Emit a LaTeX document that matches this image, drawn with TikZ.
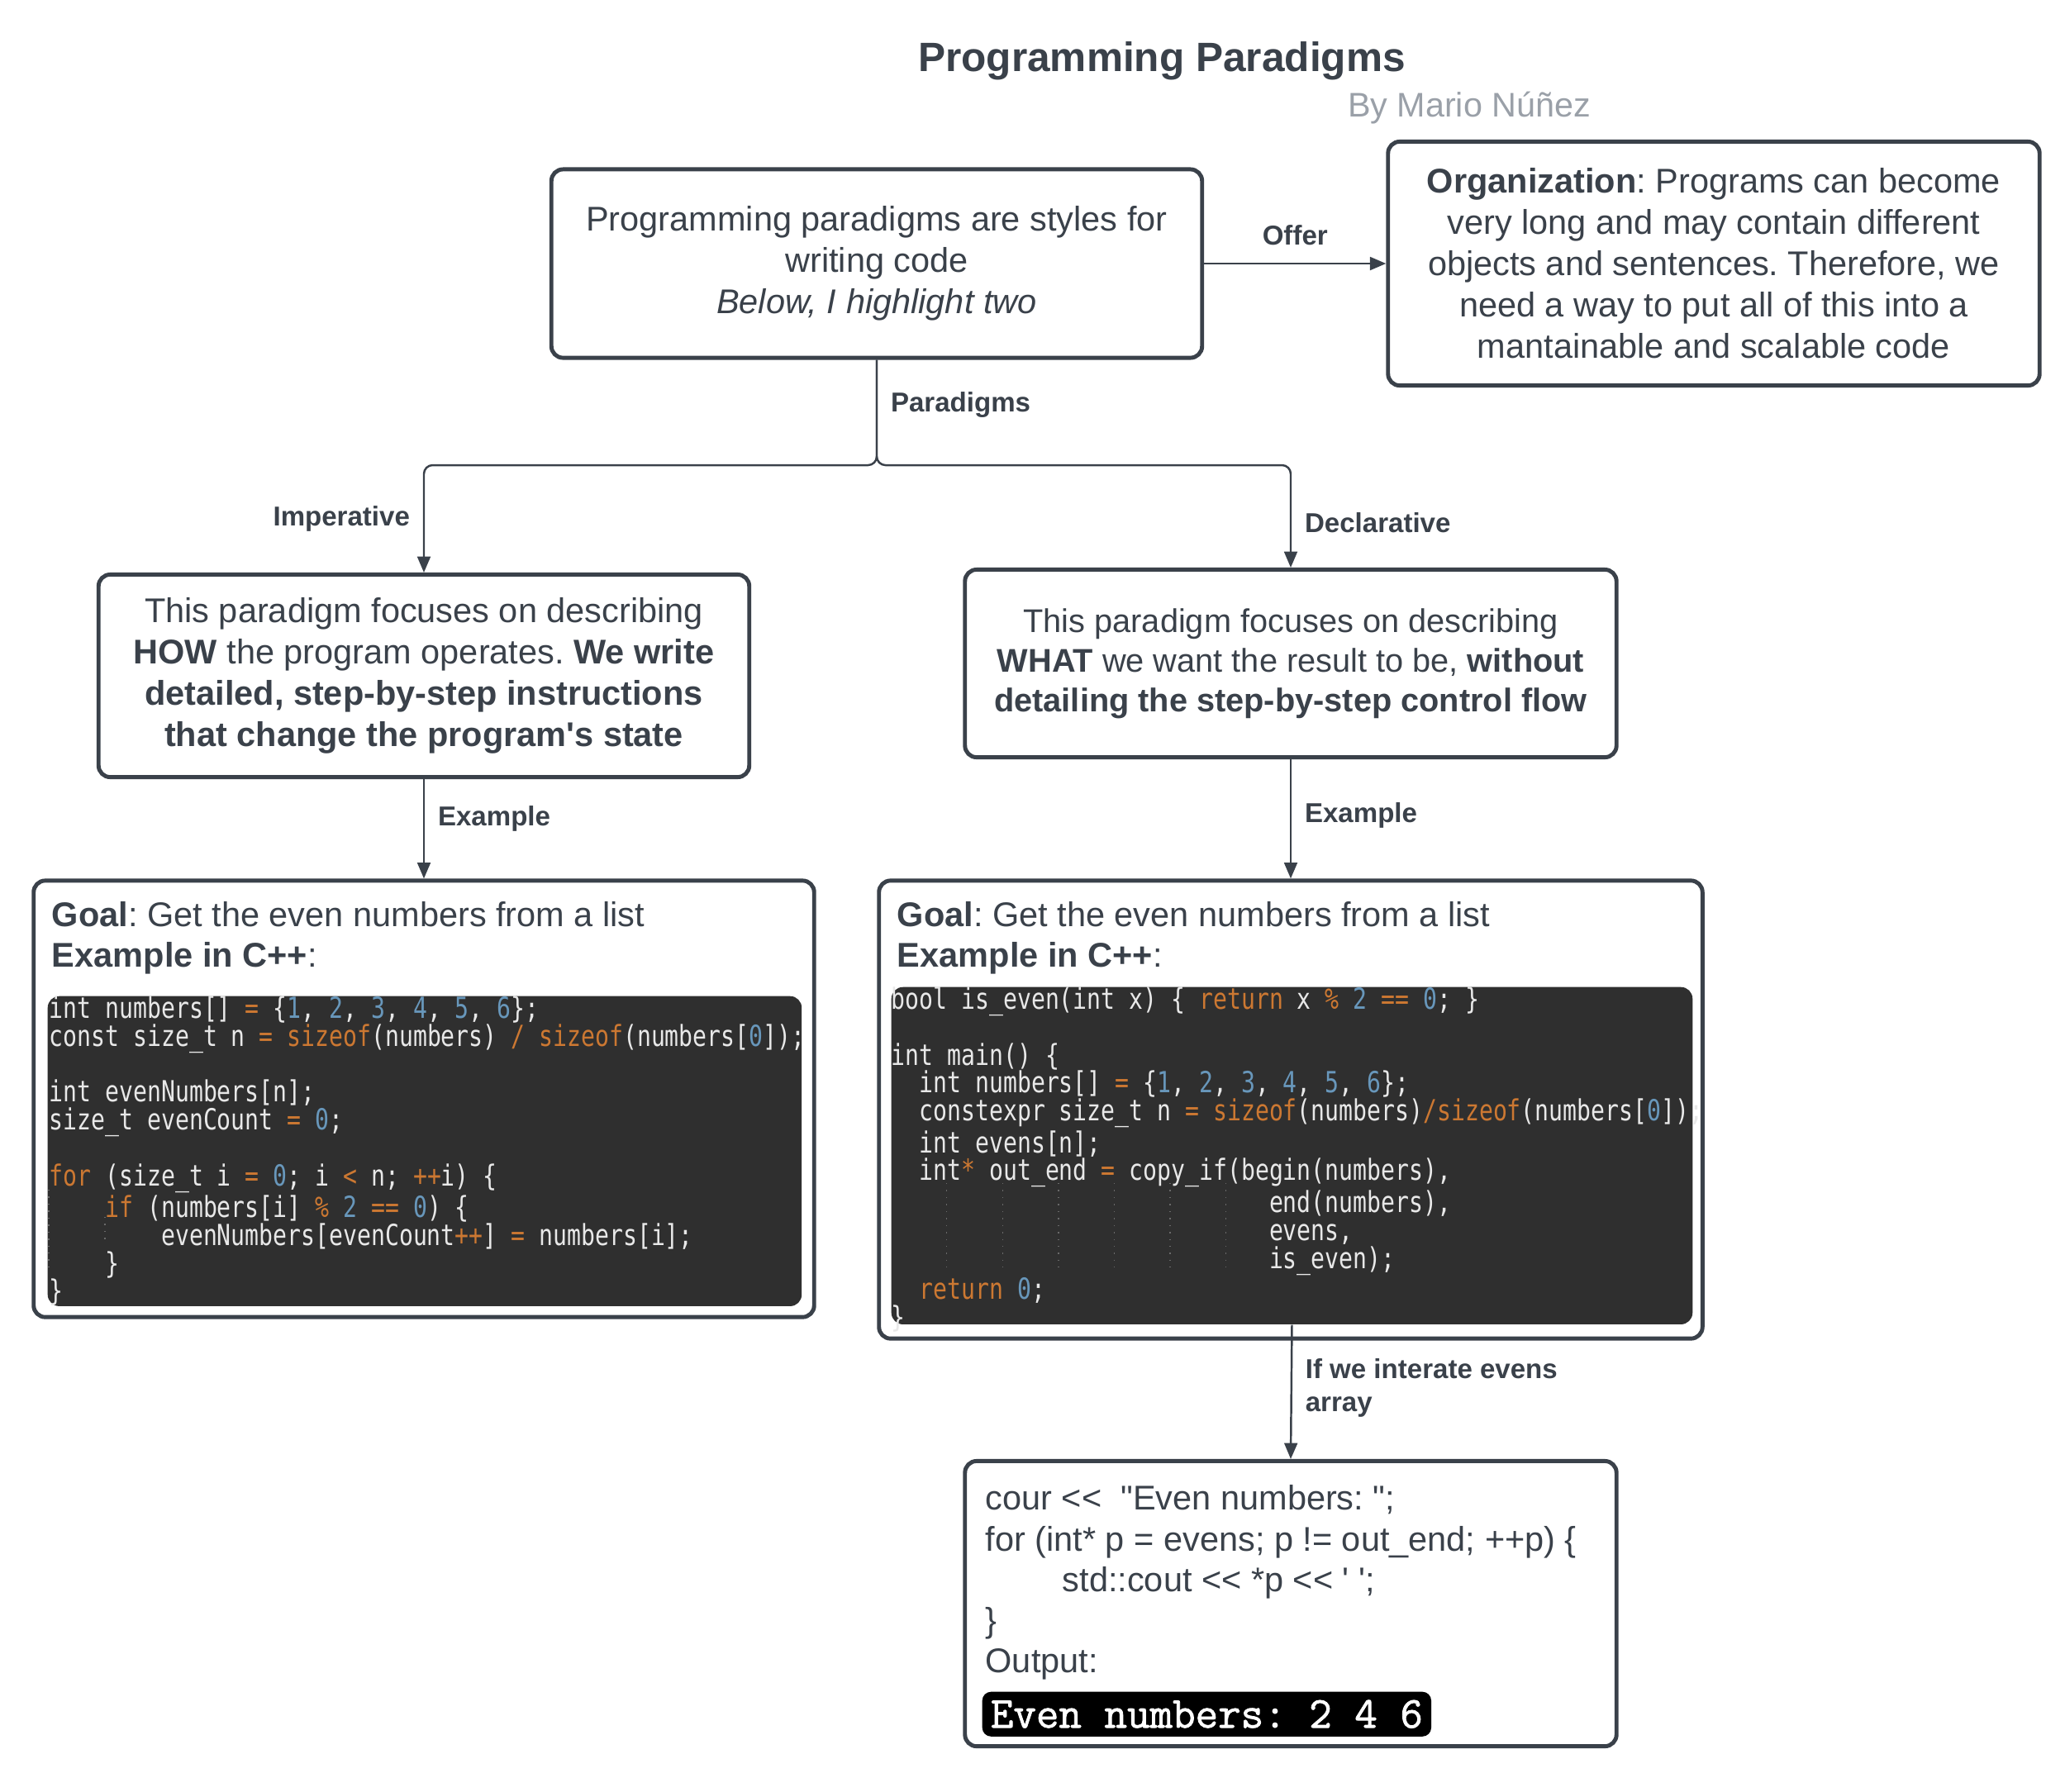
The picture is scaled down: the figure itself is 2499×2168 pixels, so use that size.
\documentclass[tikz,border=0pt]{standalone}
\usepackage{xcolor}
\usepackage{fontspec}
\usepackage{tikz}
\usetikzlibrary{arrows.meta,positioning}
\newfontfamily\arialfont{Liberation Sans}
\newfontfamily\codefont{DejaVu Sans Mono}[FakeStretch=0.8]
\newfontfamily\termfont{Latin Modern Mono}[FakeBold=1.5]
\definecolor{ink}{HTML}{3A414A}
\definecolor{byline}{HTML}{9AA0A8}
\definecolor{codebg}{HTML}{2F2F2F}
\definecolor{codefg}{HTML}{E8E8E8}
\definecolor{codekw}{HTML}{CC7832}
\definecolor{codenum}{HTML}{6897BB}
\definecolor{guide}{HTML}{6A6A6A}
\newcommand\kw[1]{\textcolor{codekw}{#1}}
\newcommand\nm[1]{\textcolor{codenum}{#1}}
\newcommand\ind[1]{\leavevmode\hbox to #1\fontcharwd\font`\x{}}
\frenchspacing

\begin{document}
\begin{tikzpicture}[x=0.01cm, y=-0.01cm, font=\arialfont, text=ink,
  box/.style={draw=ink, line width=1.4pt, rounded corners=4pt, align=center, inner sep=0pt, fill=white, font=\arialfont\fontsize{11.8}{14.2}\selectfont},
  lbl/.style={inner sep=0pt, align=left, font=\arialfont\bfseries\fontsize{9.4}{11.6}\selectfont},
  arr/.style={-{Triangle[length=5.5pt, width=4.5pt]}, line width=0.7pt, draw=ink},
  codeblk/.style={fill=codebg, rounded corners=4pt, inner sep=0pt, anchor=north west},
  codetxt/.style={inner sep=0pt, anchor=north west, align=left, text=codefg, font=\codefont\fontsize{10}{9.6}\selectfont},
  goaltxt/.style={inner sep=0pt, anchor=north west, align=left, font=\arialfont\fontsize{11.8}{14}\selectfont},
  indent/.style={draw=guide, dotted, line width=0.4pt}]
\useasboundingbox (0,0) rectangle (2499,2168);
% heading
\node[font=\arialfont\bfseries\fontsize{14.1}{17}\selectfont] (title) at (1406,74) {Programming Paradigms};
\node[font=\arialfont\fontsize{11.75}{14}\selectfont, text=byline] (author) at (1778,131) {By Mario Núñez};
% top row
\node[box, minimum width=7.87cm, minimum height=2.28cm] (intro) at (1061,319) {Programming paradigms are styles for\\writing code\\\textit{Below, I highlight two}};
\node[box, minimum width=7.88cm, minimum height=2.95cm] (orga) at (2074,319) {\textbf{Organization}: Programs can become\\very long and may contain different\\objects and sentences. Therefore, we\\need a way to put all of this into a\\mantainable and scalable code};
% the two paradigms
\node[box, minimum width=7.87cm, minimum height=2.45cm] (imper) at (513,818) {This paradigm focuses on describing\\\textbf{HOW} the program operates. \textbf{We write}\\\textbf{detailed, step-by-step instructions}\\\textbf{that change the program's state}};
\node[box, minimum width=7.88cm, minimum height=2.27cm, font=\arialfont\fontsize{11.3}{13.6}\selectfont] (declar) at (1562,803) {This paradigm focuses on describing\\\textbf{WHAT} we want the result to be, \textbf{without}\\\textbf{detailing the step-by-step control flow}};
% examples
\node[box, minimum width=9.44cm, minimum height=5.28cm] (goalL) at (513,1330) {};
\node[goaltxt, below right=0.27cm and 0.24cm of goalL.north west] (goalLtxt) {\textbf{Goal}: Get the even numbers from a list\\\textbf{Example in C++}:};
\node[codeblk, minimum width=9.12cm, minimum height=3.75cm] (codeL) at (57,1205) {};
\node[codetxt] (codeLtxt) at ([xshift=0.02cm]codeL.north west) {int numbers[] \kw{=} \{\nm{1}, \nm{2}, \nm{3}, \nm{4}, \nm{5}, \nm{6}\};\\
const size\_t n \kw{=} \kw{sizeof}(numbers) \kw{/} \kw{sizeof}(numbers[\nm{0}]);\\
\mbox{}\\
int evenNumbers[n];\\
size\_t evenCount \kw{=} \nm{0};\\
\mbox{}\\
\kw{for} (size\_t i \kw{=} \nm{0}; i \kw{<} n; \kw{++}i) \{\\
\ind{4}\kw{if} (numbers[i] \kw{\%} \nm{2} \kw{==} \nm{0}) \{\\
\ind{8}evenNumbers[evenCount\kw{++}] \kw{=} numbers[i];\\
\ind{4}\}\\
\}};
\draw[indent] (59,1440) -- (59,1541);
\draw[indent] (127,1473) -- (127,1506);
\node[box, minimum width=9.96cm, minimum height=5.54cm] (goalR) at (1562,1343) {};
\node[goaltxt, below right=0.27cm and 0.24cm of goalR.north west] (goalRtxt) {\textbf{Goal}: Get the even numbers from a list\\\textbf{Example in C++}:};
\node[codeblk, minimum width=9.69cm, minimum height=4.08cm] (codeR) at (1078,1194) {};
\node[codetxt] (codeRtxt) at (codeR.north west) {bool is\_even(int x) \{ \kw{return} x \kw{\%} \nm{2} \kw{==} \nm{0}; \}\\
\mbox{}\\
int main() \{\\
\ind{2}int numbers[] \kw{=} \{\nm{1}, \nm{2}, \nm{3}, \nm{4}, \nm{5}, \nm{6}\};\\
\ind{2}constexpr size\_t n \kw{=} \kw{sizeof}(numbers)\kw{/}\kw{sizeof}(numbers[\nm{0}]);\\
\ind{2}int evens[n];\\
\ind{2}int\kw{*} out\_end \kw{=} copy\_if(begin(numbers),\\
\ind{27}end(numbers),\\
\ind{27}evens,\\
\ind{27}is\_even);\\
\ind{2}\kw{return} \nm{0};\\
\}};
\foreach \gx in {4,8,...,24}
  \draw[indent] (1078+\gx*16.9,1432) -- (1078+\gx*16.9,1534);
% printed result
\node[box, minimum width=7.88cm, minimum height=3.45cm] (outbox) at (1562,1941) {};
\node[goaltxt] (outtxt) at (1192,1797) {cour <<\ \ "Even numbers: ";\\for (int* p = evens; p != out\_end; ++p) \{\\\hspace*{0.93cm}std::cout << *p << \textquotesingle\ \textquotesingle;\\\}\\Output:};
\node[fill=black, rounded corners=3pt, inner sep=0pt, minimum width=5.43cm, minimum height=0.54cm, anchor=north west, text=white, font=\termfont\fontsize{15.2}{16}\selectfont] (termout) at (1188,2047) {Even numbers: 2 4 6};
% connectors
\coordinate (split) at (1061,563);
\draw[arr] (intro.east) -- node[lbl, above=6pt] {Offer} (orga.west);
\draw[arr, rounded corners=3pt] (intro.south) -- node[lbl, pos=0.43, right=4.5pt] {Paradigms} (split) -| node[lbl, pos=0.75, left=4.5pt] {Imperative} (imper.north);
\draw[arr, rounded corners=3pt] (intro.south) -- (split) -| node[lbl, pos=0.78, right=4.5pt] {Declarative} (declar.north);
\draw[arr] (imper.south) -- node[lbl, pos=0.4, right=4.5pt] {Example} (goalL.north);
\draw[arr] (declar.south) -- node[lbl, pos=0.47, right=4.5pt] {Example} (goalR.north);
\draw[arr] (codeR.south) -- node[lbl, pos=0.47, right=4.5pt] {If we interate evens\\array} (outbox.north);
\end{tikzpicture}
\end{document}
